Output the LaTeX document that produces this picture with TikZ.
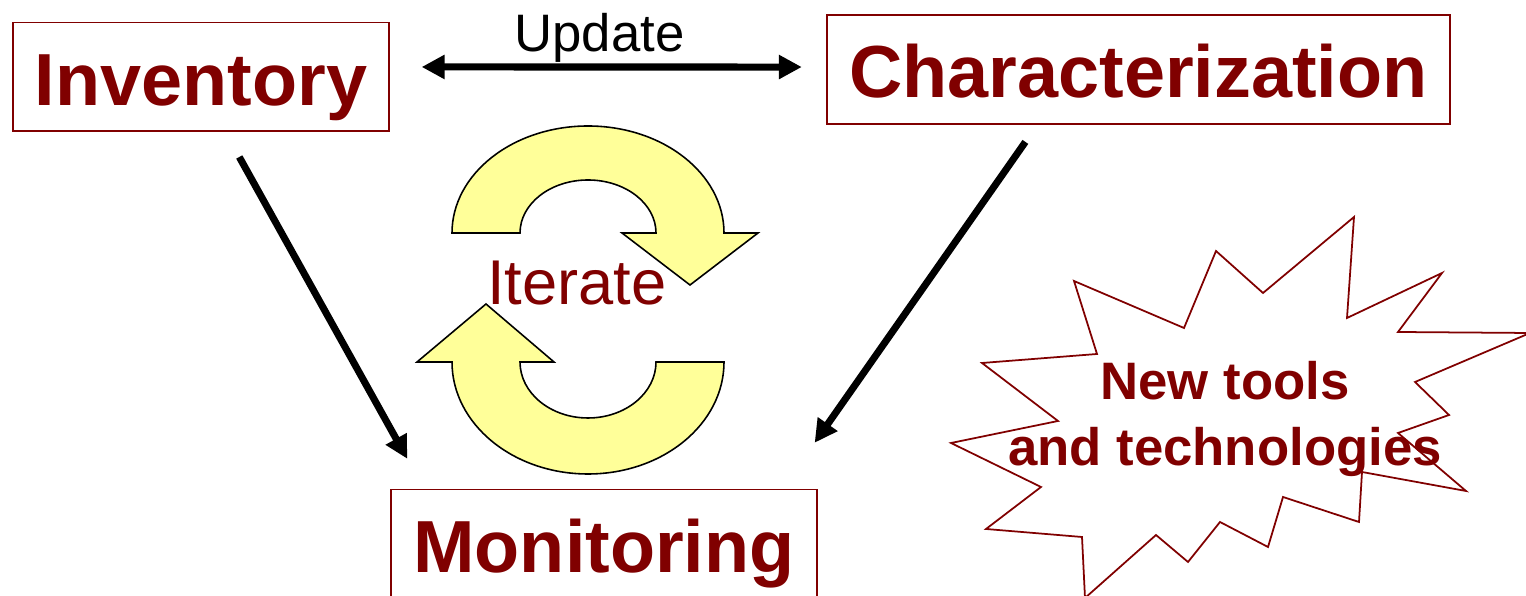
\documentclass[tikz,border=0pt]{standalone}
\usepackage{xcolor}
\usepackage{fontspec}
\setmainfont{Liberation Sans}
\usepackage{tikz}
\usetikzlibrary{arrows.meta}

\definecolor{maroon}{RGB}{128,0,0}
\definecolor{paleyellow}{RGB}{255,255,153}

\tikzset{
  stage/.style={draw=maroon, line width=1.1pt, text=maroon, inner xsep=12.5pt,
    minimum height=62pt, text height=36pt, text depth=4pt,
    font=\fontsize{42}{50}\selectfont\bfseries},
  fat/.style={line width=4pt, {Triangle[length=13pt,width=13pt]}-{Triangle[length=13pt,width=13pt]}},
  fatto/.style={line width=4pt, -{Triangle[length=13pt,width=13pt]}},
  cyc/.style={draw=black, line width=0.9pt, fill=paleyellow, line join=miter}
}

\begin{document}
\begin{tikzpicture}[x=0.2mm,y=0.2mm]
\useasboundingbox (0,0) rectangle (1526,596);
\clip (0,0) rectangle (1526,596);
%boxes
\node[stage] (inv) at (201,519) {Inventory};
\node[stage] (char) at (1138.5,526.5) {Characterization};
\node[stage] (mon) at (604,52) {Monitoring};
%update arrow
\draw[fat, shorten <=18pt, shorten >=14pt] ([yshift=5.7pt]inv.east) -- ([yshift=1.4pt]char.west)
  node[pos=0.48, above, inner sep=0.5pt, font=\fontsize{30}{36}\selectfont] {Update};
%diagonal arrows
\draw[fatto, shorten <=16pt, shorten >=19.4pt] ([xshift=14pt]inv.south) -- ([xshift=19pt]mon.north west);
\draw[fatto, shorten <=11.8pt, shorten >=31.8pt] ([xshift=-57.6pt]char.south) -- ([xshift=-19.9pt]mon.north east);
%cycle
\draw[cyc] (452,363) arc[start angle=180, end angle=0, x radius=136, y radius=107]
  -- (758,363) -- (690,311) -- (622,363) -- (656,363)
  arc[start angle=0, end angle=180, x radius=68, y radius=53] -- cycle;
\draw[cyc] (724,234) arc[start angle=0, end angle=-180, x radius=136, y radius=112]
  -- (417,234) -- (486,292) -- (554,234) -- (520,234)
  arc[start angle=180, end angle=360, x radius=68, y radius=56] -- cycle;
\node[anchor=base, text=maroon, inner sep=0pt, font=\fontsize{36}{43}\selectfont] (iter) at (577,291) {Iterate};
%star
\node[align=center, text=maroon, inner sep=0pt, font=\fontsize{30}{37}\selectfont\bfseries] (tools) at (1225,177) {New tools\\and technologies};
\draw[draw=maroon, line width=1pt, line join=miter]
  (1354,379) -- (1347,278) -- (1442,323) -- (1398,264) -- (1530,263) -- (1415,214)
  -- (1449,181) -- (1398,163) -- (1466,105) -- (1362,124) -- (1359,74) -- (1283,99)
  -- (1268,49) -- (1220,74) -- (1188,34) -- (1156,61) -- (1085,-2) -- (1082,59)
  -- (986,67) -- (1041,109) -- (951,153) -- (1058,175) -- (982,233) -- (1097,242)
  -- (1074,315) -- (1184,268) -- (1216,345) -- (1263,303) -- cycle;
\end{tikzpicture}
\end{document}
